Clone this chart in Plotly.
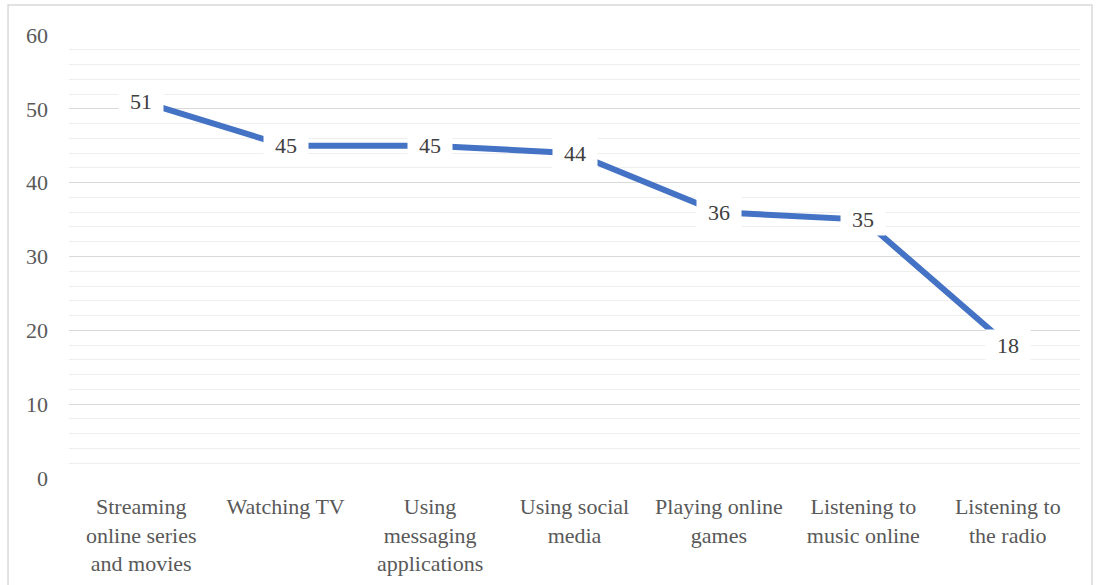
import plotly.graph_objects as go

categories = [
    "Streaming<br>online series<br>and movies",
    "Watching TV",
    "Using<br>messaging<br>applications",
    "Using social<br>media",
    "Playing online<br>games",
    "Listening to<br>music online",
    "Listening to<br>the radio",
]
values = [51, 45, 45, 44, 36, 35, 18]
y_ticks = [0, 10, 20, 30, 40, 50, 60]

FONT = "Liberation Serif"
TXT = "#595959"

fig = go.Figure()
fig.add_trace(go.Scatter(
    x=categories, y=values, mode="lines",
    line=dict(color="#4472C4", width=6),
    hoverinfo="skip", showlegend=False,
))

for c, v in zip(categories, values):
    fig.add_annotation(
        x=c, y=v, text=str(v), showarrow=False,
        font=dict(family=FONT, size=22, color="#404040"),
        bgcolor="white", borderpad=3, width=38,
        xanchor="center", yanchor="middle",
    )

fig.add_shape(type="rect", xref="paper", yref="paper",
              x0=-0.0603, x1=1.0119, y0=-0.4, y1=1.0677,
              line=dict(color="#d9d9d9", width=1.5), fillcolor="rgba(0,0,0,0)",
              layer="below")

fig.update_layout(
    width=1100, height=585,
    margin=dict(l=69, r=20, t=35, b=107, autoexpand=False),
    paper_bgcolor="white", plot_bgcolor="white",
    font=dict(family=FONT, color=TXT),
    xaxis=dict(
        type="category", showgrid=False, showline=False, zeroline=False,
        ticks="", tickfont=dict(family=FONT, size=22, color=TXT),
        range=[-0.5, len(categories) - 0.5],
        ticklabelstandoff=13, automargin=False,
    ),
    yaxis=dict(
        range=[0, 60], tickvals=y_ticks, ticktext=[str(t) for t in y_ticks],
        showgrid=True, gridcolor="#d9d9d9", gridwidth=1,
        zeroline=False, showline=False, ticks="", automargin=False,
        tickfont=dict(family=FONT, size=22, color=TXT),
        ticklabelstandoff=20,
        minor=dict(dtick=2, showgrid=True, gridcolor="#eeeeee", gridwidth=1),
    ),
)

fig.write_html("out.html")
